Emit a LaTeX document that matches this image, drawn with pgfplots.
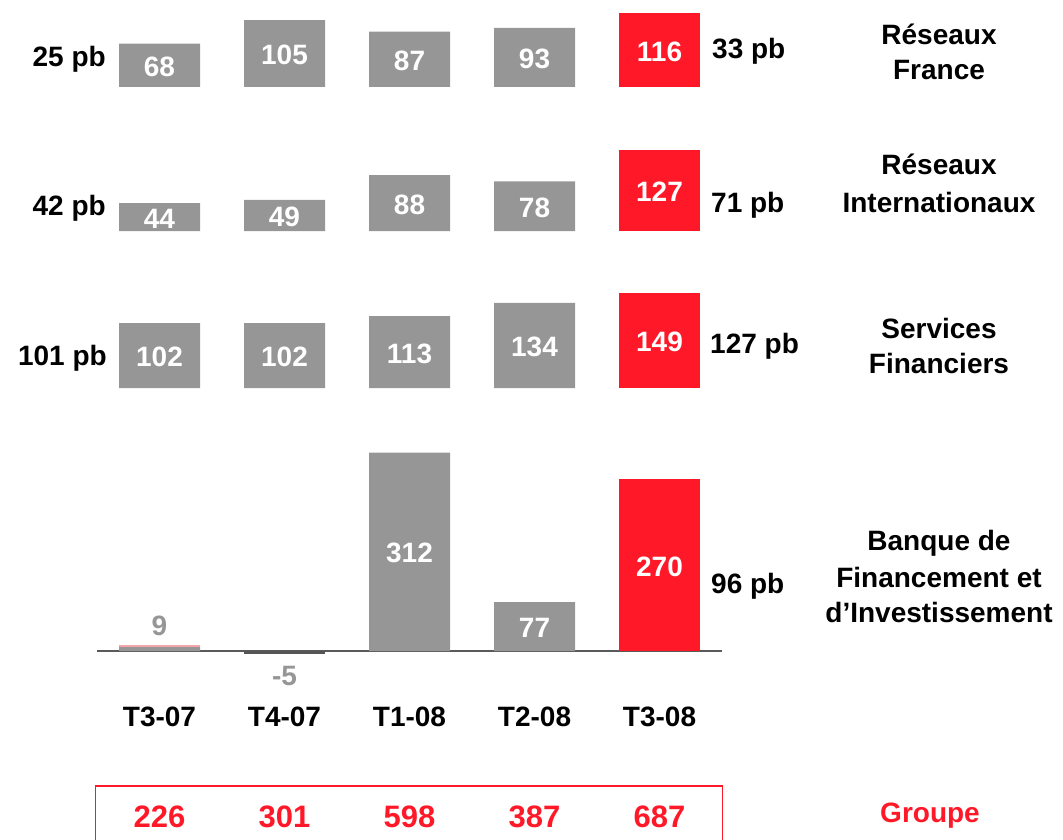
\documentclass[border=0pt]{standalone}
\usepackage{fontspec}
\setmainfont{Liberation Sans}
\usepackage{pgfplots}
\pgfplotsset{compat=1.18}

\definecolor{barG}{RGB}{150,150,150}
\definecolor{barR}{RGB}{255,25,40}
\definecolor{pinkT}{RGB}{245,165,170}
\definecolor{axG}{RGB}{90,90,90}
\definecolor{lowG}{RGB}{85,85,85}

\newcommand{\fs}{\fontsize{28}{34}\selectfont\bfseries}
\newcommand{\fg}{\fontsize{31}{36}\selectfont\bfseries}

\pgfplotsset{
  rowax/.style={
    anchor=origin, x=125pt, y=0.636pt,
    xmin=-0.5, xmax=4.5, ymin=-10, ymax=330,
    clip=false, ybar, bar width=81pt,
  },
  gbar/.style={fill=barG, draw=none, bar shift=0pt},
  rbar/.style={fill=barR, draw=none, bar shift=0pt},
}
\tikzset{
  val/.style={font=\fs, text=white, inner sep=0pt, anchor=center, yshift=-1.5pt},
  lbl/.style={font=\fs, inner sep=0pt},
}

\begin{document}
\begin{tikzpicture}
\useasboundingbox (0pt,0pt) rectangle (1063pt,-840pt);

% Reseaux France
\begin{axis}[rowax, axis lines=none, at={(159.5pt,-87pt)}]
  \addplot[gbar] coordinates {(0,68) (1,105) (2,87) (3,93)};
  \addplot[rbar] coordinates {(4,116)};
  \node[val] at (axis cs:0,34) {68};
  \node[val] at (axis cs:1,52.5) {105};
  \node[val] at (axis cs:2,43.5) {87};
  \node[val] at (axis cs:3,46.5) {93};
  \node[val] at (axis cs:4,58) {116};
\end{axis}

% Reseaux Internationaux
\begin{axis}[rowax, axis lines=none, at={(159.5pt,-231pt)}]
  \addplot[gbar] coordinates {(0,44) (1,49) (2,88) (3,78)};
  \addplot[rbar] coordinates {(4,127)};
  \node[val] at (axis cs:0,22) {44};
  \node[val] at (axis cs:1,24.5) {49};
  \node[val] at (axis cs:2,44) {88};
  \node[val] at (axis cs:3,39) {78};
  \node[val] at (axis cs:4,63.5) {127};
\end{axis}

% Services Financiers
\begin{axis}[rowax, axis lines=none, at={(159.5pt,-388pt)}]
  \addplot[gbar] coordinates {(0,102) (1,102) (2,113) (3,134)};
  \addplot[rbar] coordinates {(4,149)};
  \node[val] at (axis cs:0,51) {102};
  \node[val] at (axis cs:1,51) {102};
  \node[val] at (axis cs:2,56.5) {113};
  \node[val] at (axis cs:3,67) {134};
  \node[val] at (axis cs:4,74.5) {149};
\end{axis}

% BFI
\begin{axis}[rowax, at={(159.5pt,-651pt)},
  hide y axis, axis x line*=middle,
  x axis line style={draw=axG, line width=1.2pt},
  hide obscured x ticks=false,
  xtick={0,1,2,3,4},
  xticklabels={T3-07,T4-07,T1-08,T2-08,T3-08},
  major tick length=0pt,
  xticklabel style={font=\fs, anchor=base, inner sep=0pt, yshift=-75pt},
]
  \addplot[fill=pinkT, draw=none, bar shift=0pt] coordinates {(0,9)};
  \addplot[gbar] coordinates {(0,6) (2,312) (3,77)};
  \addplot[fill=lowG, draw=none, bar shift=0pt] coordinates {(1,-5)};
  \addplot[rbar] coordinates {(4,270)};
  \node[lbl, text=barG, anchor=base] at (axis cs:0,25) {9};
  \node[lbl, text=barG, anchor=base] at (axis cs:1,-55) {-5};
  \node[val] at (axis cs:2,156) {312};
  \node[val] at (axis cs:3,38.5) {77};
  \node[val] at (axis cs:4,135) {270};
\end{axis}

% pb labels
\node[lbl, anchor=base east] at (106pt,-67pt) {25 pb};
\node[lbl, anchor=base east] at (106pt,-215pt) {42 pb};
\node[lbl, anchor=base east] at (107pt,-365pt) {101 pb};
\node[lbl, anchor=base west] at (712pt,-59pt) {33 pb};
\node[lbl, anchor=base west] at (711pt,-212pt) {71 pb};
\node[lbl, anchor=base west] at (710pt,-353pt) {127 pb};
\node[lbl, anchor=base west] at (711pt,-593pt) {96 pb};

% row names
\node[lbl, anchor=base] at (939pt,-45pt) {Réseaux};
\node[lbl, anchor=base] at (939pt,-80pt) {France};
\node[lbl, anchor=base] at (939pt,-175pt) {Réseaux};
\node[lbl, anchor=base] at (939pt,-212pt) {Internationaux};
\node[lbl, anchor=base] at (939pt,-338pt) {Services};
\node[lbl, anchor=base] at (939pt,-373pt) {Financiers};
\node[lbl, anchor=base] at (939pt,-550pt) {Banque de};
\node[lbl, anchor=base] at (939pt,-587pt) {Financement et};
\node[lbl, anchor=base] at (939pt,-622pt) {d’Investissement};

% Groupe
\draw[barR, line width=1.5pt] (95.5pt,-860pt) rectangle (722.5pt,-786pt);
\node[lbl, text=barR, font=\fg, anchor=base] at (159.5pt,-827pt) {226};
\node[lbl, text=barR, font=\fg, anchor=base] at (284.5pt,-827pt) {301};
\node[lbl, text=barR, font=\fg, anchor=base] at (409.5pt,-827pt) {598};
\node[lbl, text=barR, font=\fg, anchor=base] at (534.5pt,-827pt) {387};
\node[lbl, text=barR, font=\fg, anchor=base] at (659.5pt,-827pt) {687};
\node[lbl, text=barR, anchor=base] at (930pt,-822pt) {Groupe};
\end{tikzpicture}
\end{document}
